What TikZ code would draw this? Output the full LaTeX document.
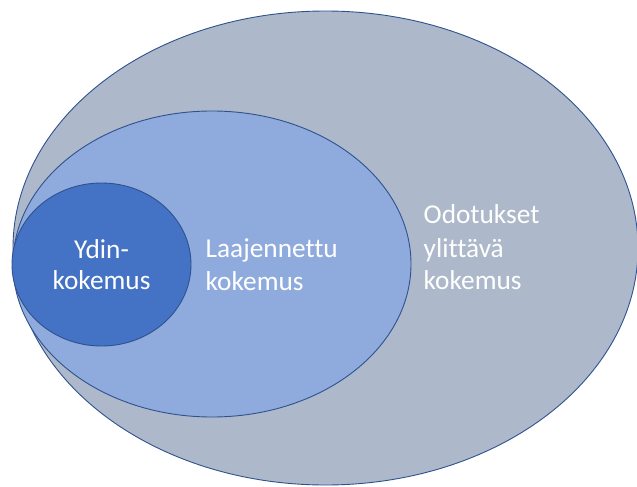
\documentclass[tikz,border=0pt]{standalone}
\usepackage{fontspec}
\setmainfont[Ligatures=NoCommon]{Carlito}
\definecolor{outerfill}{HTML}{ADB9CA}
\definecolor{midfill}{HTML}{8FAADC}
\definecolor{innerfill}{HTML}{4472C4}
\definecolor{edgeblue}{HTML}{2F528F}
\begin{document}
\begin{tikzpicture}[x=1pt,y=-1pt,
  ring/.style={draw=edgeblue,line width=0.9pt},
  lbl/.style={text=white,inner sep=0pt,font=\fontsize{27.3}{33}\selectfont}]
\useasboundingbox (0,0) rectangle (637,487);
\fill[white] (0,0) rectangle (637,487);
\draw[ring,fill=outerfill] (325.5,248) ellipse [x radius=312.5,y radius=237];
\draw[ring,fill=midfill] (212,264) ellipse [x radius=199,y radius=153];
\draw[ring,fill=innerfill] (101.5,264.5) ellipse [x radius=89.5,y radius=81.5];
\node[lbl,anchor=base] (core1) at (101.5,258) {Ydin-};
\node[lbl,anchor=base] (core2) at (101.5,289.5) {kokemus};
\node[lbl,anchor=base west] (ext1) at (205.5,257.5) {Laajennettu};
\node[lbl,anchor=base west] (ext2) at (205.5,290) {kokemus};
\node[lbl,anchor=base west] (exc1) at (423.5,223) {Odotukset};
\node[lbl,anchor=base west] (exc2) at (423.5,257) {ylittävä};
\node[lbl,anchor=base west] (exc3) at (423.5,289.5) {kokemus};
\end{tikzpicture}
\end{document}
